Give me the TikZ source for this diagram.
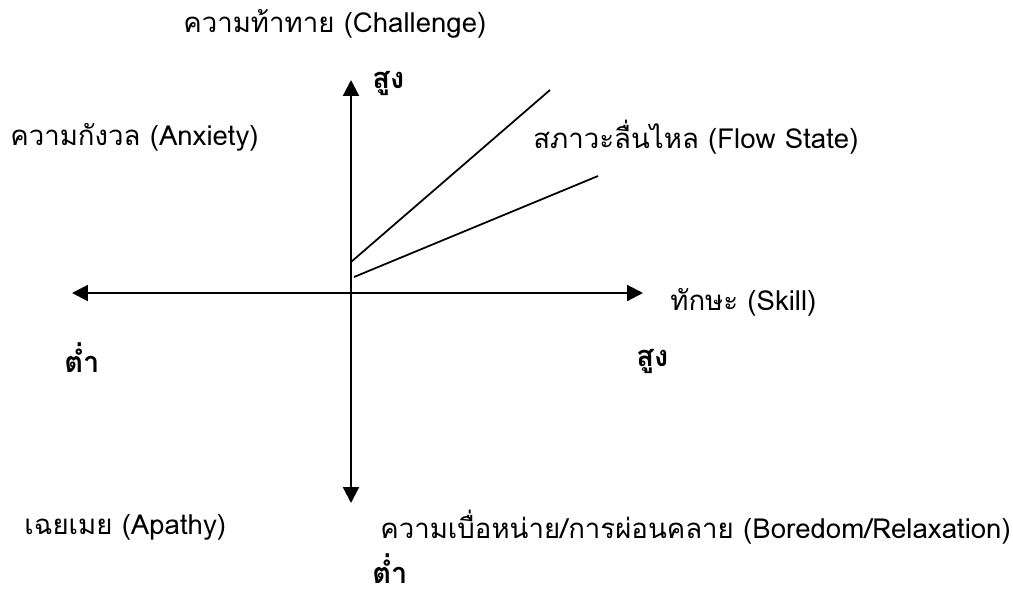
\documentclass[tikz,border=0pt]{standalone}
\usepackage{fontspec}
\setmainfont[Script=Thai]{Loma}
\usetikzlibrary{arrows.meta}
\begin{document}
\begin{tikzpicture}[x=0.02cm,y=-0.02cm,
  lbl/.style={inner sep=0pt,anchor=west,font=\fontsize{15.7}{18}\selectfont},
  blbl/.style={lbl,font=\fontsize{16.5}{19}\selectfont\bfseries},
  axis/.style={line width=1.2pt,-{Triangle[length=9pt,width=9pt]}},
  ln/.style={line width=1pt}]
\useasboundingbox (0,0) rectangle (1013,595);
\coordinate (o) at (351,293);
\coordinate (top) at (351,80);
\coordinate (bot) at (351,503);
\coordinate (lft) at (72,293);
\coordinate (rgt) at (643,293);
\coordinate (a1) at (351,262);
\coordinate (a2) at (550,90);
\coordinate (b1) at (354,277);
\coordinate (b2) at (598,176);
\draw[axis] (o) -- (top);
\draw[axis] (o) -- (bot);
\draw[axis] (o) -- (lft);
\draw[axis] (o) -- (rgt);
\draw[ln] (a1) -- (a2);
\draw[ln] (b1) -- (b2);
\node[lbl] (ch) at (183,24) {ความท้าทาย (Challenge)};
\node[blbl] (hi1) at (372,84) {สูง};
\node[lbl] (anx) at (10,137) {ความกังวล (Anxiety)};
\node[lbl] (flow) at (533,137) {สภาวะลื่นไหล (Flow State)};
\node[lbl] (sk) at (670,302) {ทักษะ (Skill)};
\node[blbl] (lo1) at (64,358) {ต่ำ};
\node[blbl] (hi2) at (636,362) {สูง};
\node[lbl] (ap) at (24,527) {เฉยเมย (Apathy)};
\node[lbl] (bor) at (380,527) {ความเบื่อหน่าย/การผ่อนคลาย (Boredom/Relaxation)};
\node[blbl] (lo2) at (372,569) {ต่ำ};
\end{tikzpicture}
\end{document}
